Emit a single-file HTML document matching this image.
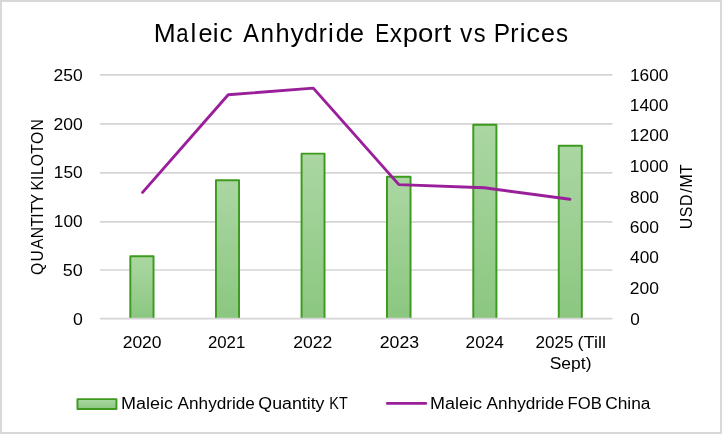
<!DOCTYPE html>
<html lang="en">
<head>
<meta charset="utf-8">
<title>Maleic Anhydride Export vs Prices</title>
<style>
html,body{margin:0;padding:0;background:#fff;}
body{width:722px;height:434px;overflow:hidden;font-family:"Liberation Sans",sans-serif;}
svg{display:block;will-change:transform;}
text{font-family:"Liberation Sans",sans-serif;fill:#000;}
</style>
</head>
<body>
<svg width="722" height="434" viewBox="0 0 722 434">
<defs>
<linearGradient id="g" x1="0" y1="0" x2="0" y2="1">
<stop offset="0" stop-color="#abd7a2"/>
<stop offset="1" stop-color="#8bc781"/>
</linearGradient>
</defs>
<rect x="0" y="0" width="722" height="434" fill="#ffffff"/>
<rect x="1" y="1" width="720" height="432" fill="none" stroke="#d9d7d8" stroke-width="2"/>

<g stroke="#d6d4d5" stroke-width="1.7" fill="none">
<line x1="100.0" y1="270.00" x2="612.4" y2="270.00"/>
<line x1="100.0" y1="221.97" x2="612.4" y2="221.97"/>
<line x1="100.0" y1="172.90" x2="612.4" y2="172.90"/>
<line x1="100.0" y1="123.84" x2="612.4" y2="123.84"/>
<line x1="100.0" y1="74.85" x2="612.4" y2="74.85"/>
</g>
<g fill="url(#g)" stroke="none">
<rect x="130.32" y="256.28" width="23.20" height="61.82"/>
<rect x="215.97" y="180.28" width="23.05" height="137.83"/>
<rect x="301.58" y="153.62" width="22.95" height="164.48"/>
<rect x="386.98" y="176.82" width="23.55" height="141.28"/>
<rect x="473.28" y="124.67" width="23.15" height="193.43"/>
<rect x="558.77" y="145.82" width="23.05" height="172.28"/>
</g>
<g fill="none" stroke="#3d9a1e" stroke-width="1.95" stroke-linejoin="round" stroke-linecap="butt">
<path d="M130.32 318.10V256.28H153.53V318.10"/>
<path d="M215.97 318.10V180.28H239.03V318.10"/>
<path d="M301.58 318.10V153.62H324.52V318.10"/>
<path d="M386.98 318.10V176.82H410.52V318.10"/>
<path d="M473.28 318.10V124.67H496.42V318.10"/>
<path d="M558.77 318.10V145.82H581.82V318.10"/>
</g>
<line x1="100.0" y1="318.72" x2="612.4" y2="318.72" stroke="#d6d4d5" stroke-width="1.7"/>
<polyline fill="none" stroke="#9a1f9a" stroke-width="2.9" stroke-linecap="round" stroke-linejoin="round" points="142.6,192.4 228.2,94.8 313.3,88.1 398.9,184.6 484.3,187.8 569.9,199.3"/>
<rect x="77.45" y="399.15" width="39.00" height="9.80" fill="url(#g)" stroke="#3d9a1e" stroke-width="1.9" stroke-linejoin="round"/>
<line x1="387.4" y1="403.4" x2="425.7" y2="403.4" stroke="#9a1f9a" stroke-width="2.9" stroke-linecap="round"/>
<text transform="translate(42.80 0) rotate(-90)" y="0" font-size="15.60" x="-275.01 -261.43 -249.10 -238.29 -226.81 -217.64 -213.21 -204.30 -196.50 -190.50 -180.07 -175.07 -166.21 -153.86 -144.04 -130.54">QUANTITY KILOTON</text>
<text transform="translate(691.50 0) rotate(-90)" y="0" font-size="15.90" x="-229.24 -217.35 -206.11 -192.71 -187.47 -174.05">USD/MT</text>
<text y="42" font-size="26"><tspan x="153.79" textLength="21.92" lengthAdjust="spacingAndGlyphs">M</tspan><tspan x="176.21" textLength="12.29" lengthAdjust="spacingAndGlyphs">a</tspan><tspan x="190.60">l</tspan><tspan x="198.38" textLength="14.04" lengthAdjust="spacingAndGlyphs">e</tspan><tspan x="212.67">i</tspan><tspan x="219.64" textLength="13.10" lengthAdjust="spacingAndGlyphs">c</tspan> <tspan x="243.30" textLength="15.69" lengthAdjust="spacingAndGlyphs">A</tspan><tspan x="260.54" textLength="13.48" lengthAdjust="spacingAndGlyphs">n</tspan><tspan x="275.39" textLength="14.11" lengthAdjust="spacingAndGlyphs">h</tspan><tspan x="290.49" textLength="13.12" lengthAdjust="spacingAndGlyphs">y</tspan><tspan x="304.00" textLength="13.85" lengthAdjust="spacingAndGlyphs">d</tspan><tspan x="318.66" textLength="7.99" lengthAdjust="spacingAndGlyphs">r</tspan><tspan x="327.92">i</tspan><tspan x="335.70" textLength="13.85" lengthAdjust="spacingAndGlyphs">d</tspan><tspan x="349.76" textLength="14.22" lengthAdjust="spacingAndGlyphs">e</tspan> <tspan x="375.23" textLength="13.97" lengthAdjust="spacingAndGlyphs">E</tspan><tspan x="389.82" textLength="12.29" lengthAdjust="spacingAndGlyphs">x</tspan><tspan x="402.89" textLength="15.15" lengthAdjust="spacingAndGlyphs">p</tspan><tspan x="417.99" textLength="15.31" lengthAdjust="spacingAndGlyphs">o</tspan><tspan x="433.81" textLength="8.46" lengthAdjust="spacingAndGlyphs">r</tspan><tspan x="442.95" textLength="8.27" lengthAdjust="spacingAndGlyphs">t</tspan> <tspan x="460.07" textLength="12.32" lengthAdjust="spacingAndGlyphs">v</tspan><tspan x="473.79" textLength="11.81" lengthAdjust="spacingAndGlyphs">s</tspan> <tspan x="493.85" textLength="16.29" lengthAdjust="spacingAndGlyphs">P</tspan><tspan x="510.30" textLength="8.26" lengthAdjust="spacingAndGlyphs">r</tspan><tspan x="519.87">i</tspan><tspan x="526.28" textLength="13.80" lengthAdjust="spacingAndGlyphs">c</tspan><tspan x="541.09" textLength="13.93" lengthAdjust="spacingAndGlyphs">e</tspan><tspan x="556.03" textLength="12.04" lengthAdjust="spacingAndGlyphs">s</tspan></text>
<text x="72.95" y="325" font-size="16.30" textLength="9.83" lengthAdjust="spacingAndGlyphs">0</text>
<text x="62.88" y="276" font-size="16.30" textLength="19.97" lengthAdjust="spacingAndGlyphs">50</text>
<text x="53.81" y="227" font-size="16.30" textLength="28.80" lengthAdjust="spacingAndGlyphs">100</text>
<text x="53.88" y="178" font-size="16.30" textLength="28.84" lengthAdjust="spacingAndGlyphs">150</text>
<text x="53.45" y="130" font-size="16.30" textLength="29.24" lengthAdjust="spacingAndGlyphs">200</text>
<text x="53.59" y="81" font-size="16.30" textLength="29.08" lengthAdjust="spacingAndGlyphs">250</text>
<text x="630.26" y="325" font-size="16.30" textLength="9.52" lengthAdjust="spacingAndGlyphs">0</text>
<text x="629.82" y="294" font-size="16.30" textLength="29.20" lengthAdjust="spacingAndGlyphs">200</text>
<text x="630.05" y="263" font-size="16.30" textLength="28.88" lengthAdjust="spacingAndGlyphs">400</text>
<text x="629.80" y="233" font-size="16.30" textLength="29.22" lengthAdjust="spacingAndGlyphs">600</text>
<text x="630.10" y="203" font-size="16.30" textLength="28.89" lengthAdjust="spacingAndGlyphs">800</text>
<text x="629.86" y="172" font-size="16.30" textLength="38.57" lengthAdjust="spacingAndGlyphs">1000</text>
<text x="629.83" y="141" font-size="16.30" textLength="38.81" lengthAdjust="spacingAndGlyphs">1200</text>
<text x="629.85" y="111" font-size="16.30" textLength="38.50" lengthAdjust="spacingAndGlyphs">1400</text>
<text x="629.92" y="81" font-size="16.30" textLength="38.51" lengthAdjust="spacingAndGlyphs">1600</text>
<text x="122.66" y="348" font-size="16.30" textLength="38.93" lengthAdjust="spacingAndGlyphs">2020</text>
<text x="207.93" y="348" font-size="16.30" textLength="37.38" lengthAdjust="spacingAndGlyphs">2021</text>
<text x="293.38" y="348" font-size="16.30" textLength="39.01" lengthAdjust="spacingAndGlyphs">2022</text>
<text x="379.75" y="348" font-size="16.30" textLength="39.43" lengthAdjust="spacingAndGlyphs">2023</text>
<text x="465.57" y="348" font-size="16.30" textLength="38.41" lengthAdjust="spacingAndGlyphs">2024</text>
<text font-size="15.80"><tspan font-size="16.30" x="535.41" y="348" textLength="38.06" lengthAdjust="spacingAndGlyphs">2025</tspan> <tspan x="577.59" y="348" textLength="28.33" lengthAdjust="spacingAndGlyphs">(Till</tspan> <tspan x="549.69" y="369" textLength="41.80" lengthAdjust="spacingAndGlyphs">Sept)</tspan></text>
<text font-size="15.80"><tspan x="120.95" y="409" textLength="51.97" lengthAdjust="spacingAndGlyphs">Maleic</tspan> <tspan x="177.60" y="409" textLength="77.33" lengthAdjust="spacingAndGlyphs">Anhydride</tspan> <tspan x="258.36" y="409" textLength="66.15" lengthAdjust="spacingAndGlyphs">Quantity</tspan> <tspan x="329.37" y="409" textLength="18.37" lengthAdjust="spacingAndGlyphs">KT</tspan></text>
<text font-size="15.80"><tspan x="429.95" y="409" textLength="51.97" lengthAdjust="spacingAndGlyphs">Maleic</tspan> <tspan x="486.61" y="409" textLength="77.40" lengthAdjust="spacingAndGlyphs">Anhydride</tspan> <tspan x="567.63" y="409" textLength="34.15" lengthAdjust="spacingAndGlyphs">FOB</tspan> <tspan x="605.18" y="409" textLength="45.29" lengthAdjust="spacingAndGlyphs">China</tspan></text>
</svg>
</body>
</html>
